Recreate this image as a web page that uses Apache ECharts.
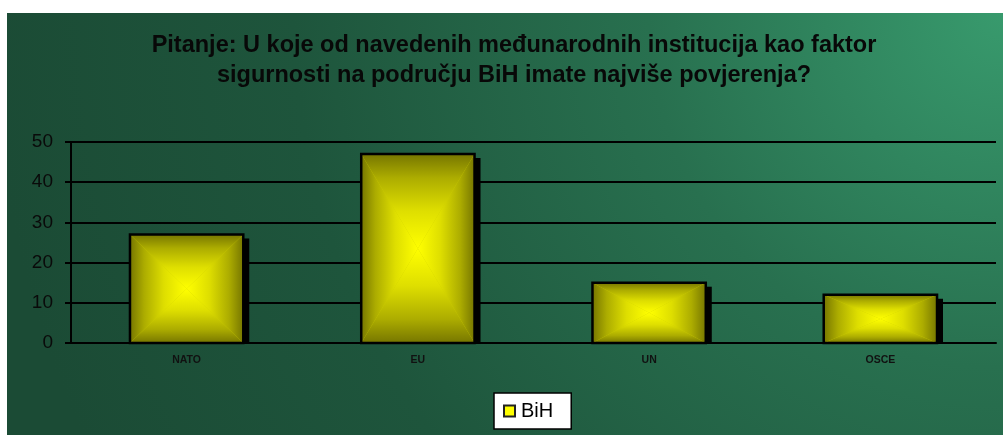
<!DOCTYPE html>
<html>
<head>
<meta charset="utf-8">
<script src="https://cdn.jsdelivr.net/npm/echarts@6/dist/echarts.min.js"></script>
<style>
html, body { margin: 0; padding: 0; background: #fff; }
#chart { width: 1003px; height: 435px; }
</style>
</head>
<body>
<div id="chart"></div>
<script>
// podaci
var categories = ['NATO', 'EU', 'UN', 'OSCE'];
var values = [27, 47, 15, 12];
var seriesName = 'BiH';
var titleText = 'Pitanje: U koje od navedenih međunarodnih institucija kao faktor\nsigurnosti na području BiH imate najviše povjerenja?';

var dom = document.getElementById('chart');
var myChart = echarts.init(dom);

var bright = '#ffff00';

// rubovi tamni, sredina svijetla (kao "iz centra" gradijent)
function lin(x, y, x2, y2) {
    return new echarts.graphic.LinearGradient(x, y, x2, y2, [
        { offset: 0, color: '#767600' },
        { offset: 0.25, color: '#acac00' },
        { offset: 0.6, color: '#dede00' },
        { offset: 1, color: bright }
    ]);
}

function renderBar(params, api) {
    var idx = api.value(0);
    var top = api.coord([idx, api.value(1)]);
    var base = api.coord([idx, 0]);
    var w = api.size([1, 0])[0] * 0.49;
    var x0 = top[0] - w / 2, x1 = top[0] + w / 2;
    var y0 = top[1], y1 = base[1];
    var cx = top[0], cy = (y0 + y1) / 2;
    return {
        type: 'group',
        children: [
            { type: 'rect', shape: { x: x1, y: y0 + 4, width: 6, height: y1 - y0 - 4 }, style: { fill: '#000' } },
            { type: 'rect', shape: { x: x0, y: y0, width: w, height: y1 - y0 }, style: { fill: '#cccc00' } },
            { type: 'polygon', shape: { points: [[x0, y0], [x1, y0], [cx, cy]] }, style: { fill: lin(0, 0, 0, 1) } },
            { type: 'polygon', shape: { points: [[x0, y1], [x1, y1], [cx, cy]] }, style: { fill: lin(0, 1, 0, 0) } },
            { type: 'polygon', shape: { points: [[x0, y0], [x0, y1], [cx, cy]] }, style: { fill: lin(0, 0, 1, 0) } },
            { type: 'polygon', shape: { points: [[x1, y0], [x1, y1], [cx, cy]] }, style: { fill: lin(1, 0, 0, 0) } },
            { type: 'rect', shape: { x: x0, y: y0, width: w, height: y1 - y0 }, style: { fill: 'none', stroke: '#000', lineWidth: 2.5 } }
        ]
    };
}

var option = {
    animation: false,
    backgroundColor: '#fff',
    graphic: [{
        type: 'rect',
        z: -10,
        left: 7,
        top: 13,
        shape: { width: 996, height: 422 },
        style: {
            fill: new echarts.graphic.RadialGradient(1, 0, 2.4, [
                { offset: 0, color: '#389a6d' },
                { offset: 0.35, color: '#28704f' },
                { offset: 0.7, color: '#1e553c' },
                { offset: 1, color: '#1b4b35' }
            ])
        }
    }],
    title: {
        text: titleText,
        left: 509,
        textAlign: 'center',
        top: 26,
        textStyle: {
            fontFamily: 'Liberation Sans, Arial',
            fontSize: 23.5,
            fontWeight: 'bold',
            color: '#080808',
            lineHeight: 29.5
        }
    },
    legend: {
        data: [{ name: seriesName, icon: 'rect', itemStyle: { color: bright, borderColor: '#222', borderWidth: 2 } }],
        left: 494,
        top: 393,
        padding: [8, 18, 8, 9],
        itemWidth: 11,
        itemHeight: 11,
        itemGap: 4,
        backgroundColor: '#fff',
        borderColor: '#000',
        borderWidth: 1.5,
        borderRadius: 0,
        textStyle: { fontFamily: 'Liberation Sans, Arial', fontSize: 20, color: '#000', padding: [0, 0, 0, 1] }
    },
    grid: {
        left: 71,
        right: 7,
        top: 142,
        bottom: 92
    },
    xAxis: {
        type: 'category',
        data: categories,
        axisLine: { lineStyle: { color: '#000', width: 2 } },
        axisTick: { show: false },
        axisLabel: {
            margin: 12,
            fontFamily: 'Liberation Sans, Arial',
            fontSize: 10.5,
            fontWeight: 'bold',
            color: '#111'
        }
    },
    yAxis: {
        type: 'value',
        min: 0,
        max: 50,
        interval: 10,
        axisLine: { show: true, lineStyle: { color: '#000', width: 2 } },
        axisTick: { show: true, length: 6, lineStyle: { color: '#000', width: 2 } },
        axisLabel: {
            margin: 18,
            fontFamily: 'Liberation Sans, Arial',
            fontSize: 19,
            color: '#0a0a0a'
        },
        splitLine: { lineStyle: { color: '#000', width: 2 } }
    },
    series: [{
        name: seriesName,
        type: 'custom',
        renderItem: renderBar,
        encode: { x: 0, y: 1 },
        data: values.map(function (v, i) { return [i, v]; })
    }]
};
myChart.setOption(option);
</script>
</body>
</html>
